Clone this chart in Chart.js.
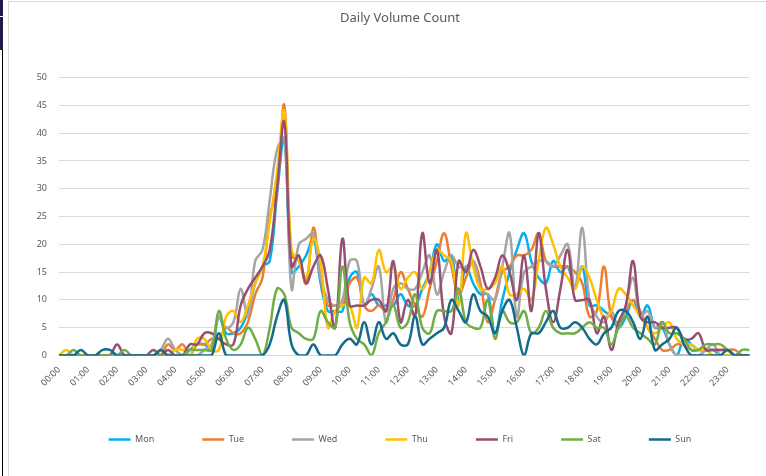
<!DOCTYPE html>
<html>
<head>
<meta charset="utf-8">
<script src="https://cdn.jsdelivr.net/npm/chart.js"></script>
<style>
  html, body { margin: 0; padding: 0; background: #fff; }
  #wrap { position: relative; width: 766px; height: 476px; overflow: hidden; }
  .frame { position: absolute; left: 8px; top: 1px; width: 770px; height: 480px; border-left: 1px solid #d9d9d9; border-top: 1px solid #d9d9d9; }
  .strip { position: absolute; left: 0; width: 3px; background: #1d1b4c; }
  .bar { position: absolute; left: 2px; top: 50px; width: 1px; height: 430px; background: #000; }
  canvas { position: absolute; left: 0; top: 0; }
</style>
</head>
<body>
<div id="wrap">
  <div class="frame"></div>
  <div class="strip" style="top:0;height:16px"></div>
  <div class="strip" style="top:17px;height:33px"></div>
  <div class="bar"></div>
  <canvas id="line-chart" width="766" height="476"></canvas>
</div>
<script>
// 15 minute buckets
const times = [
  "00:00","00:15","00:30","00:45","01:00","01:15","01:30","01:45",
  "02:00","02:15","02:30","02:45","03:00","03:15","03:30","03:45",
  "04:00","04:15","04:30","04:45","05:00","05:15","05:30","05:45",
  "06:00","06:15","06:30","06:45","07:00","07:15","07:30","07:45",
  "08:00","08:15","08:30","08:45","09:00","09:15","09:30","09:45",
  "10:00","10:15","10:30","10:45","11:00","11:15","11:30","11:45",
  "12:00","12:15","12:30","12:45","13:00","13:15","13:30","13:45",
  "14:00","14:15","14:30","14:45","15:00","15:15","15:30","15:45",
  "16:00","16:15","16:30","16:45","17:00","17:15","17:30","17:45",
  "18:00","18:15","18:30","18:45","19:00","19:15","19:30","19:45",
  "20:00","20:15","20:30","20:45","21:00","21:15","21:30","21:45",
  "22:00","22:15","22:30","22:45","23:00","23:15","23:30","23:45"
];

const mon = [
  0,0,0,0, 0,0,0,0, 0,0,0,0, 0,0,0,0,
  0,0,1,2, 2,1,7,4, 4,5,8,13, 16,17,29,39,
  15,16,18,21, 13,8,8,8, 14,15,9,11, 9,9,9,11,
  9,9,12,15, 20,17,18,10, 16,13,11,11, 4,10,15,19,
  22,17,14,13, 17,15,16,12, 16,9,9,8, 7,5,7,10,
  7,9,5,5, 2,0,3,2, 1,1,1,0, 0,0,0,0
];
const tue = [
  0,0,0,0, 0,0,0,0, 0,0,0,0, 0,0,0,2,
  1,2,0,2, 2,3,3,5, 4,4,6,11, 14,25,30,45,
  18,17,13,23, 14,9,9,9, 13,14,9,8, 9,8,10,15,
  12,9,7,12, 17,22,16,11, 14,17,13,6, 10,15,16,18,
  18,19,22,17, 16,16,16,15, 13,7,8,16, 7,6,8,10,
  8,5,3,1, 1,2,2,1, 1,1,1,1, 1,1,0,0
];
const wed = [
  0,0,0,0, 0,0,0,0, 0,0,0,0, 0,0,1,3,
  1,0,0,0, 1,2,7,5, 6,12,7,17, 19,28,37,39,
  12,20,21,22, 14,10,9,10, 17,17,9,12, 16,6,12,13,
  12,12,15,18, 11,15,18,16, 16,17,12,11, 10,16,22,7,
  15,16,17,17, 16,18,20,12, 23,10,7,6, 8,5,9,14,
  7,8,5,6, 2,0,0,0, 0,1,2,0, 0,0,0,0
];
const thu = [
  0,1,0,0, 0,0,0,0, 0,0,0,0, 0,0,0,0,
  1,1,0,3, 3,1,1,7, 8,6,9,13, 16,24,33,44,
  19,17,14,21, 17,5,8,9, 9,5,14,13, 19,15,16,12,
  14,15,12,15, 19,18,17,9, 22,16,12,12, 13,16,11,11,
  12,10,17,23, 20,16,14,12, 16,14,10,7, 8,12,11,9,
  7,5,4,5, 6,3,2,2, 1,1,0,0, 0,0,0,0
];
const fri = [
  0,0,0,0, 0,0,0,0, 2,0,0,0, 0,1,0,1,
  0,0,2,2, 4,4,3,2, 2,9,12,14, 16,19,30,42,
  16,18,13,16, 18,12,5,21, 9,9,9,10, 10,8,17,6,
  10,7,22,13, 19,7,4,17, 15,19,16,12, 14,18,15,10,
  18,8,22,12, 6,12,19,10, 10,10,4,7, 1,6,9,17,
  7,6,6,5, 5,5,3,3, 4,1,1,1, 1,0,0,0
];
const sat = [
  0,0,1,0, 0,0,0,0, 0,1,0,0, 0,0,0,0,
  0,0,1,1, 1,1,8,3, 1,2,5,3, 0,5,12,11,
  5,4,3,3, 8,6,5,16, 6,3,2,0, 4,6,9,5,
  6,11,5,4, 8,8,8,12, 6,5,5,10, 3,8,6,6,
  8,4,5,8, 5,4,4,4, 5,6,5,5, 2,5,7,5,
  4,3,2,6, 4,4,3,1, 1,2,2,2, 1,0,1,1
];
const sun = [
  0,0,0,1, 0,0,1,1, 0,0,0,0, 0,0,1,0,
  0,0,0,0, 0,0,4,0, 0,0,0,0, 0,2,7,10,
  2,0,0,2, 0,0,0,2, 3,2,6,2, 6,3,4,2,
  2,7,2,3, 4,5,10,8, 6,11,8,7, 4,8,10,5,
  0,4,4,6, 8,5,5,6, 5,3,2,4, 5,8,8,6,
  3,7,1,2, 3,5,2,0, 0,0,0,0, 1,0,0,0
];

const days = ["Mon", "Tue", "Wed", "Thu", "Fri", "Sat", "Sun"];
const series = [mon, tue, wed, thu, fri, sat, sun];
const colors = ["#00b0f0", "#ed7d31", "#a5a5a5", "#ffc000", "#954f72", "#70ad47", "#146a8a"];

const txt = "#595959";
const font = "'Noto Sans', 'Open Sans', sans-serif";

// excel centres title + legend on the whole frame, not the plot, so nudge them right
const nudge = {
  id: "nudge",
  afterLayout(chart) {
    const t = chart.titleBlock, l = chart.legend;
    t.left += 24; t.right += 24;
    l.left += 24; l.right += 24;
    l.top -= 8.5; l.bottom -= 8.5;
  }
};

new Chart(document.getElementById("line-chart"), {
  type: "line",
  data: {
    labels: times,
    datasets: days.map((d, i) => ({
      label: d,
      data: series[i],
      borderColor: colors[i],
      backgroundColor: colors[i],
      borderWidth: 2.5,
      pointRadius: 0,
      tension: 0.4,
      fill: false,
      order: days.length - i   // later days on top
    }))
  },
  plugins: [nudge],
  options: {
    responsive: false,
    animation: false,
    layout: { padding: { left: 0, right: 14, top: 0, bottom: 13.5 } },
    plugins: {
      title: {
        display: true,
        text: "Daily Volume Count",
        color: txt,
        font: { family: font, size: 13, weight: "normal" },
        padding: { top: 10, bottom: 52 }
      },
      legend: {
        position: "bottom",
        labels: {
          usePointStyle: true,
          pointStyle: "line",
          pointStyleWidth: 22,
          padding: 48,
          color: txt,
          font: { family: font, size: 9 },
          sort: (a, b) => a.datasetIndex - b.datasetIndex
        }
      },
      tooltip: { enabled: false }
    },
    scales: {
      x: {
        grid: { display: false, drawTicks: false },
        border: { color: "#d9d9d9" },
        ticks: {
          autoSkip: false,
          minRotation: 45,
          maxRotation: 45,
          padding: 9,
          color: txt,
          font: { family: font, size: 9 },
          callback: function (v, i) { return i % 4 === 0 ? times[i] : ""; }
        },
        afterFit: (s) => { s.height = 40; }
      },
      y: {
        min: 0,
        max: 50,
        grid: { color: "#d9d9d9", drawTicks: false },
        border: { display: false },
        ticks: {
          stepSize: 5,
          padding: 12,
          color: txt,
          font: { family: font, size: 9 }
        },
        afterFit: (s) => { s.width = 59; }
      }
    }
  }
});
</script>
</body>
</html>
